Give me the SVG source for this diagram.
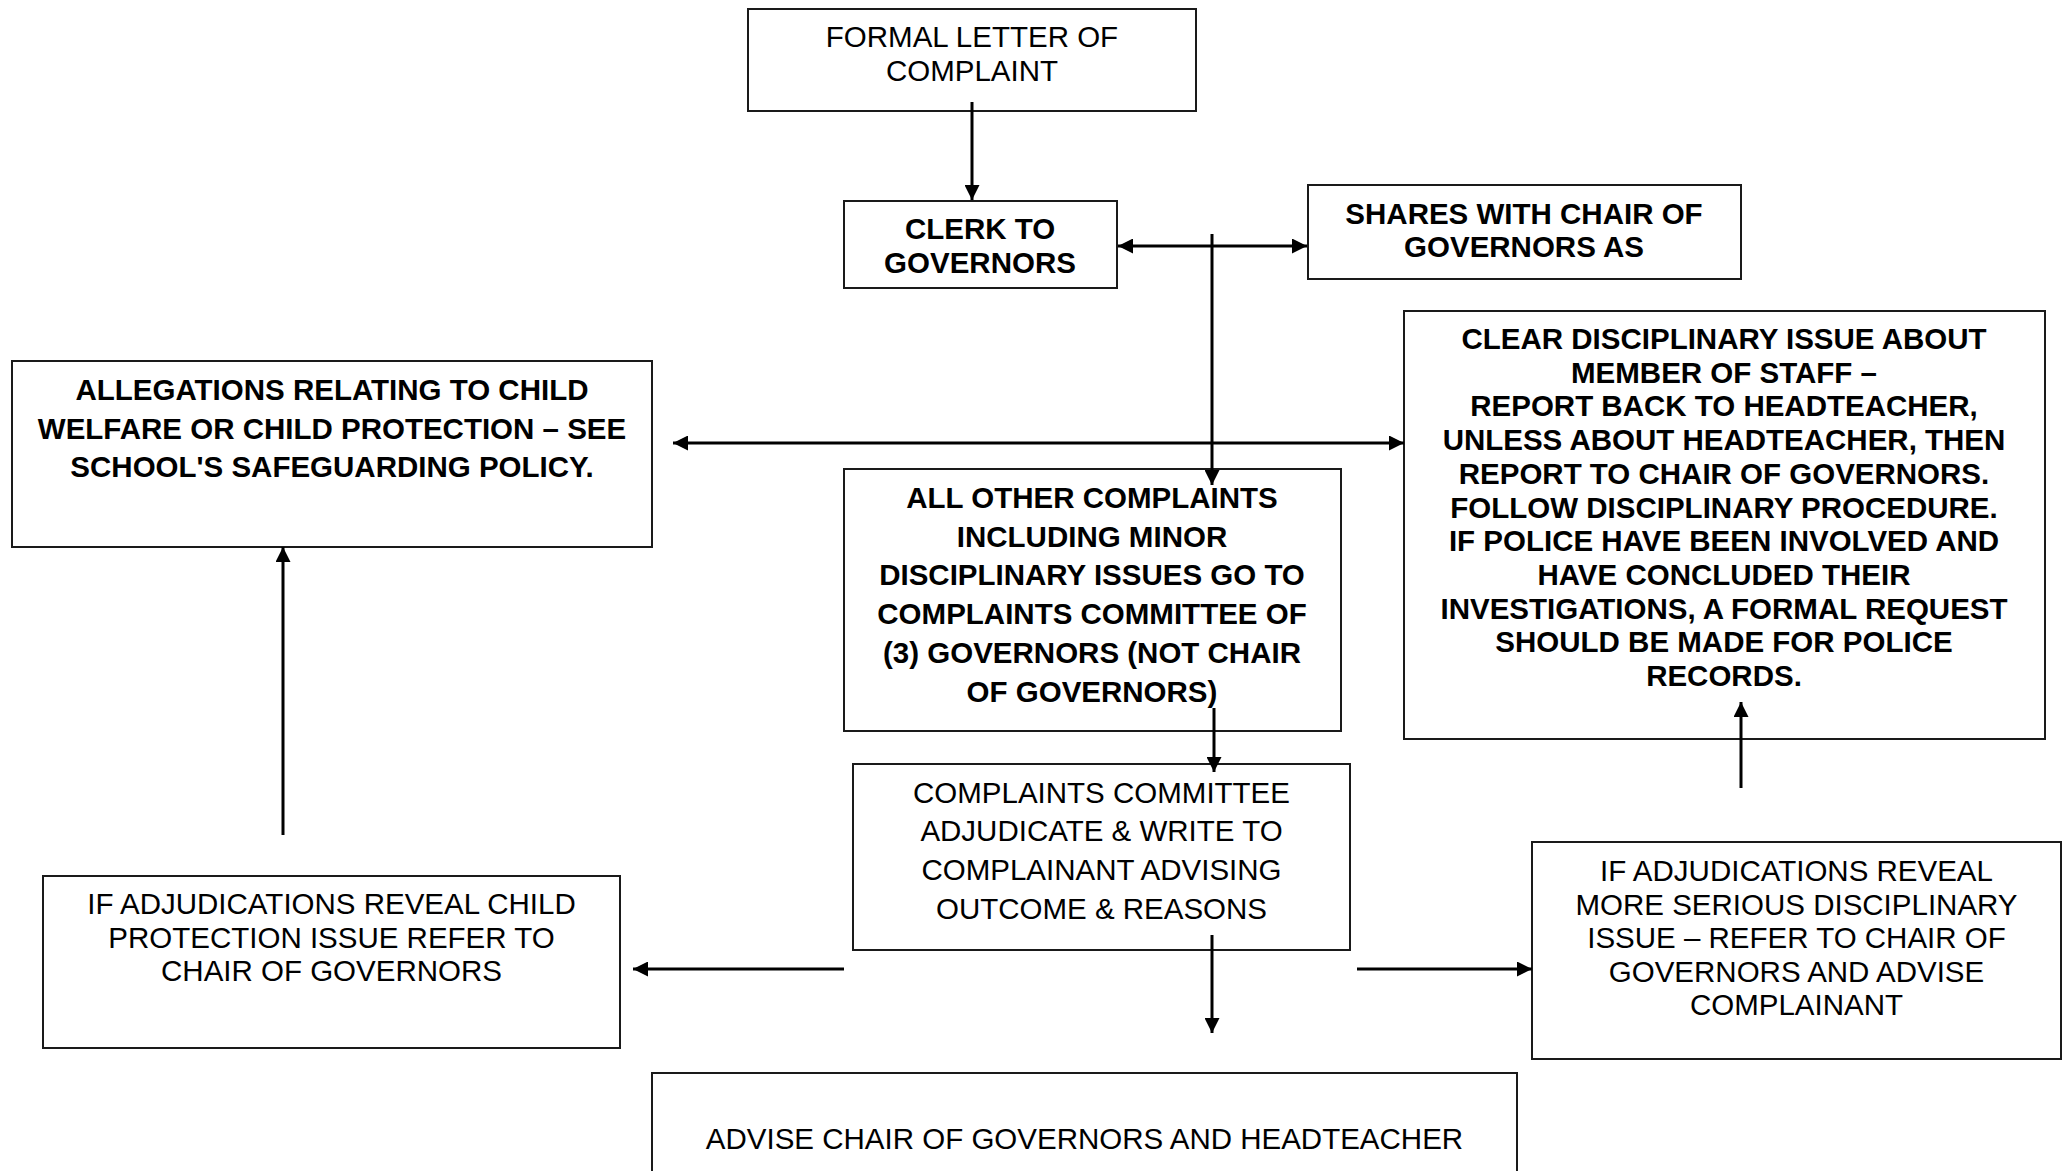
<svg xmlns="http://www.w3.org/2000/svg" width="2065" height="1171" viewBox="0 0 2065 1171">
<style>
.box{fill:#fff;stroke:#1a1a1a;stroke-width:2}
.t{font-family:"Liberation Sans",Arial,sans-serif;font-size:29.5px;fill:#000;text-anchor:middle}
.b{font-weight:bold}
.c{fill:none;stroke:#000;stroke-width:3}
</style>
<defs>
<marker id="ah" markerUnits="userSpaceOnUse" markerWidth="15" markerHeight="15" refX="15" refY="7.5" orient="auto-start-reverse" viewBox="0 0 15 15">
<path d="M0,0 L15,7.5 L0,15 z" fill="#000"/>
</marker>
</defs>
<rect width="2065" height="1171" fill="#fff"/>
<g id="formal">
<rect class="box" x="748" y="9" width="448" height="102"/>
<text class="t" x="972" y="47">FORMAL LETTER OF</text>
<text class="t" x="972" y="81">COMPLAINT</text>
</g>
<g id="clerk">
<rect class="box" x="844" y="201" width="273" height="87"/>
<text class="t b" x="980" y="239">CLERK TO</text>
<text class="t b" x="980" y="273">GOVERNORS</text>
</g>
<g id="shares">
<rect class="box" x="1308" y="185" width="433" height="94"/>
<text class="t b" x="1524" y="224">SHARES WITH CHAIR OF</text>
<text class="t b" x="1524" y="257">GOVERNORS AS</text>
</g>
<g id="allegations">
<rect class="box" x="12" y="361" width="640" height="186"/>
<text class="t b" x="332" y="400">ALLEGATIONS RELATING TO CHILD</text>
<text class="t b" x="332" y="438.5">WELFARE OR CHILD PROTECTION – SEE</text>
<text class="t b" x="332" y="477">SCHOOL'S SAFEGUARDING POLICY.</text>
</g>
<g id="clear">
<rect class="box" x="1404" y="311" width="641" height="428"/>
<text class="t b" x="1724" y="349">CLEAR DISCIPLINARY ISSUE ABOUT</text>
<text class="t b" x="1724" y="382.7">MEMBER OF STAFF –</text>
<text class="t b" x="1724" y="416.4">REPORT BACK TO HEADTEACHER,</text>
<text class="t b" x="1724" y="450">UNLESS ABOUT HEADTEACHER, THEN</text>
<text class="t b" x="1724" y="483.8">REPORT TO CHAIR OF GOVERNORS.</text>
<text class="t b" x="1724" y="517.5">FOLLOW DISCIPLINARY PROCEDURE.</text>
<text class="t b" x="1724" y="551">IF POLICE HAVE BEEN INVOLVED AND</text>
<text class="t b" x="1724" y="585">HAVE CONCLUDED THEIR</text>
<text class="t b" x="1724" y="618.6">INVESTIGATIONS, A FORMAL REQUEST</text>
<text class="t b" x="1724" y="652.3">SHOULD BE MADE FOR POLICE</text>
<text class="t b" x="1724" y="686">RECORDS.</text>
</g>
<g id="allother">
<rect class="box" x="844" y="469" width="497" height="262"/>
<text class="t b" x="1092" y="508">ALL OTHER COMPLAINTS</text>
<text class="t b" x="1092" y="546.7">INCLUDING MINOR</text>
<text class="t b" x="1092" y="585.4">DISCIPLINARY ISSUES GO TO</text>
<text class="t b" x="1092" y="624">COMPLAINTS COMMITTEE OF</text>
<text class="t b" x="1092" y="662.8">(3) GOVERNORS (NOT CHAIR</text>
<text class="t b" x="1092" y="701.5">OF GOVERNORS)</text>
</g>
<g id="committee">
<rect class="box" x="853" y="764" width="497" height="186"/>
<text class="t" x="1101.5" y="802.5">COMPLAINTS COMMITTEE</text>
<text class="t" x="1101.5" y="841.2">ADJUDICATE &amp; WRITE TO</text>
<text class="t" x="1101.5" y="879.9">COMPLAINANT ADVISING</text>
<text class="t" x="1101.5" y="918.6">OUTCOME &amp; REASONS</text>
</g>
<g id="childadj">
<rect class="box" x="43" y="876" width="577" height="172"/>
<text class="t" x="331.5" y="914">IF ADJUDICATIONS REVEAL CHILD</text>
<text class="t" x="331.5" y="948">PROTECTION ISSUE REFER TO</text>
<text class="t" x="331.5" y="981">CHAIR OF GOVERNORS</text>
</g>
<g id="serious">
<rect class="box" x="1532" y="842" width="529" height="217"/>
<text class="t" x="1796.5" y="881">IF ADJUDICATIONS REVEAL</text>
<text class="t" x="1796.5" y="914.6">MORE SERIOUS DISCIPLINARY</text>
<text class="t" x="1796.5" y="948.2">ISSUE – REFER TO CHAIR OF</text>
<text class="t" x="1796.5" y="981.8">GOVERNORS AND ADVISE</text>
<text class="t" x="1796.5" y="1015.4">COMPLAINANT</text>
</g>
<g id="advise">
<rect class="box" x="652" y="1073" width="865" height="120"/>
<text class="t" x="1084.5" y="1148.5">ADVISE CHAIR OF GOVERNORS AND HEADTEACHER</text>
</g>
<g id="connectors">
<line class="c" x1="972" y1="102" x2="972" y2="200" marker-end="url(#ah)"/>
<line class="c" x1="1118" y1="246" x2="1307" y2="246" marker-start="url(#ah)" marker-end="url(#ah)"/>
<line class="c" x1="1212" y1="234" x2="1212" y2="485" marker-end="url(#ah)"/>
<line class="c" x1="673" y1="443" x2="1404" y2="443" marker-start="url(#ah)" marker-end="url(#ah)"/>
<line class="c" x1="1214" y1="708" x2="1214" y2="772" marker-end="url(#ah)"/>
<line class="c" x1="1212" y1="935" x2="1212" y2="1033" marker-end="url(#ah)"/>
<line class="c" x1="844" y1="969" x2="633" y2="969" marker-end="url(#ah)"/>
<line class="c" x1="1357" y1="969" x2="1532" y2="969" marker-end="url(#ah)"/>
<line class="c" x1="283" y1="835" x2="283" y2="547" marker-end="url(#ah)"/>
<line class="c" x1="1741" y1="788" x2="1741" y2="702" marker-end="url(#ah)"/>
</g>
</svg>
